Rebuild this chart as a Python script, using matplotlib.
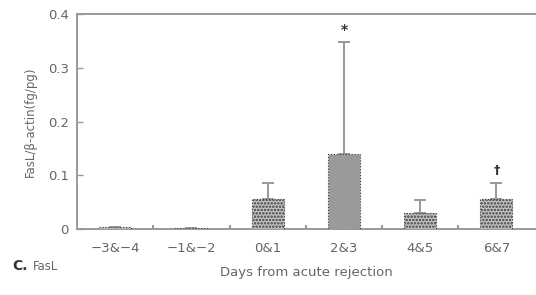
import numpy as np
import matplotlib.pyplot as plt

days = ['\u22123&\u22124', '\u22121&\u22122', '0&1', '2&3', '4&5', '6&7']
fasl = [0.004, 0.001, 0.056, 0.140, 0.030, 0.056]
err_up = [0.0, 0.0, 0.030, 0.208, 0.024, 0.030]
marks = ['', '', '', '*', '', '\u2020']

grey = '#666666'
plt.rcParams['font.family'] = ['DejaVu Sans']
plt.rcParams['hatch.linewidth'] = 1.2

fig = plt.figure(figsize=(5.36, 2.95), dpi=100)
ax = fig.add_axes([0.1437, 0.2237, 0.8563, 0.7288])

x = np.arange(len(days))
bars = ax.bar(x, fasl, width=0.42, color='#c4c4c4', edgecolor='#3c3c3c',
              hatch='.....', linewidth=0.8, linestyle=':', zorder=3)
bars[3].set_hatch('')
bars[3].set_facecolor('#9a9a9a')
ax.errorbar(x, fasl, yerr=[np.zeros(len(x)), err_up], fmt='none',
            ecolor='#999999', elinewidth=1.4, capsize=4.5, capthick=1.4, zorder=2)

for xi, v, e, m in zip(x, fasl, err_up, marks):
    if m:
        ax.text(xi, v + e + 0.01, m, ha='center', va='bottom',
                fontsize=10 if m == '*' else 9, color='#333333', fontweight='bold')

ax.set_xlim(-0.5, 5.52)
ax.set_ylim(0, 0.4)
ax.set_yticks([0, 0.1, 0.2, 0.3, 0.4])
ax.set_yticklabels(['0', '0.1', '0.2', '0.3', '0.4'])
ax.set_xticks(x)
ax.set_xticklabels(days)
ax.set_xticks(x[:-1] + 0.5, minor=True)

for s in ['left', 'bottom', 'top']:
    ax.spines[s].set_color('#999999')
    ax.spines[s].set_linewidth(1.4)
ax.spines['right'].set_visible(False)

ax.tick_params(axis='y', direction='in', length=4, width=1, color='#999999',
               labelsize=9.5, labelcolor=grey, pad=6)
ax.tick_params(axis='x', which='major', length=0, labelsize=9.5,
               labelcolor=grey, pad=9)
ax.tick_params(axis='x', which='minor', direction='in', length=3, width=1.4,
               color='#999999')

ax.set_ylabel('FasL/\u03b2-actin(fg/pg)', fontsize=8.5, color=grey, labelpad=8)
ax.set_xlabel('Days from acute rejection', fontsize=9.5, color=grey, labelpad=8)

fig.text(0.022, 0.085, 'C.', fontsize=10, fontweight='bold', color='#333333')
fig.text(0.062, 0.085, 'FasL', fontsize=8.5, color=grey)

fig.savefig('out.png', dpi=100)
